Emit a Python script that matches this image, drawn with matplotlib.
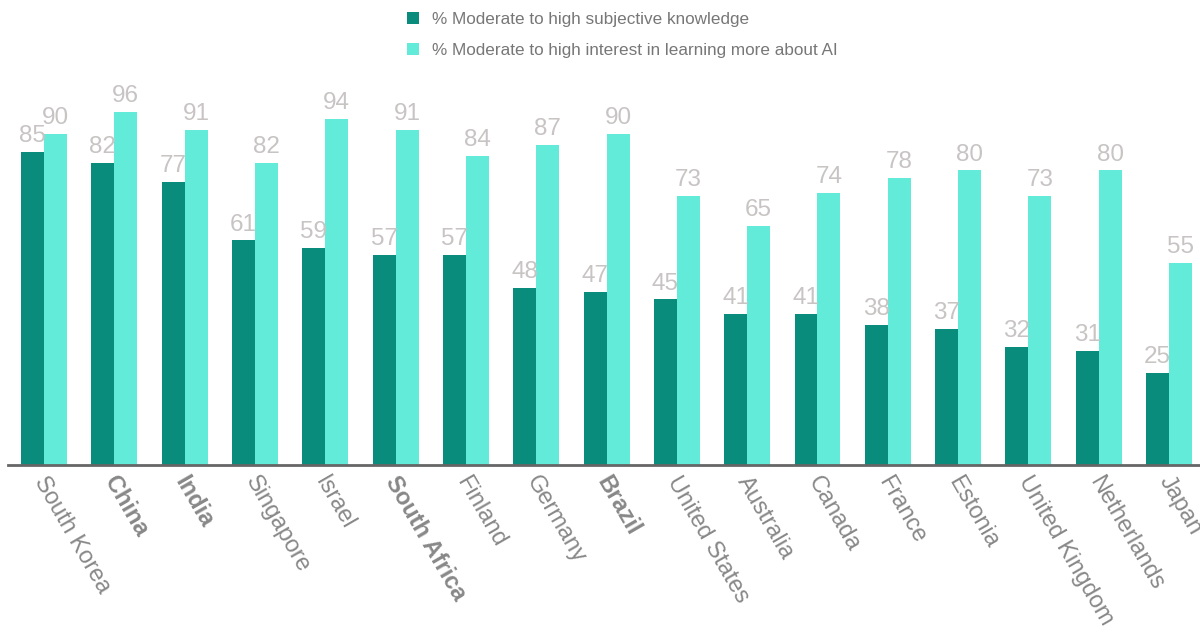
import numpy as np
import matplotlib.pyplot as plt

countries = ["South Korea", "China", "India", "Singapore", "Israel", "South Africa",
             "Finland", "Germany", "Brazil", "United States", "Australia", "Canada",
             "France", "Estonia", "United Kingdom", "Netherlands", "Japan"]
bold_countries = ["China", "India", "South Africa", "Brazil"]
knowledge = [85, 82, 77, 61, 59, 57, 57, 48, 47, 45, 41, 41, 38, 37, 32, 31, 25]
interest = [90, 96, 91, 82, 94, 91, 84, 87, 90, 73, 65, 74, 78, 80, 73, 80, 55]
series_names = ["% Moderate to high subjective knowledge",
                "% Moderate to high interest in learning more about AI"]

dark = "#0a8c7d"
light = "#63ebda"
label_grey = "#c8c4c4"
tick_grey = "#888888"

plt.rcParams['font.family'] = ['Liberation Sans', 'DejaVu Sans']

fig = plt.figure(figsize=(12, 6.35), dpi=100)
ax = fig.add_axes([0.0067, 0.2677, 0.9933, 0.6378])

x = np.arange(len(countries))
w = 0.327
b1 = ax.bar(x - w / 2, knowledge, w, color=dark, label=series_names[0])
b2 = ax.bar(x + w / 2, interest, w, color=light, label=series_names[1])

for bars in (b1, b2):
    for rect in bars:
        h = rect.get_height()
        ax.text(rect.get_x() + rect.get_width() / 2, h + 1.3, f"{h:.0f}",
                ha='center', va='bottom', fontsize=17.5, color=label_grey)

ax.set_xlim(-0.512, 16.44)
ax.set_ylim(0, 110)
ax.set_yticks([])
# labels sit a touch left of the group centre, like the original
ax.set_xticks(x - 0.07)
ax.set_xticklabels(countries)
for lab in ax.get_xticklabels():
    lab.set_rotation(-60)
    lab.set_rotation_mode('anchor')
    lab.set_ha('left')
    lab.set_va('center')
    lab.set_fontsize(17)
    lab.set_color(tick_grey)
    if lab.get_text() in bold_countries:
        lab.set_fontweight('bold')
ax.tick_params(axis='x', length=0, pad=9)

for s in ['top', 'right', 'left']:
    ax.spines[s].set_visible(False)
ax.spines['bottom'].set_color('#666666')
ax.spines['bottom'].set_linewidth(2)

fig.legend(loc='upper left', bbox_to_anchor=(0.326, 1.005), frameon=False,
           fontsize=12.3, labelcolor='#777777', handlelength=0.7, handleheight=0.7,
           handletextpad=0.8, labelspacing=0.9)

fig.savefig("out.png", dpi=100)
